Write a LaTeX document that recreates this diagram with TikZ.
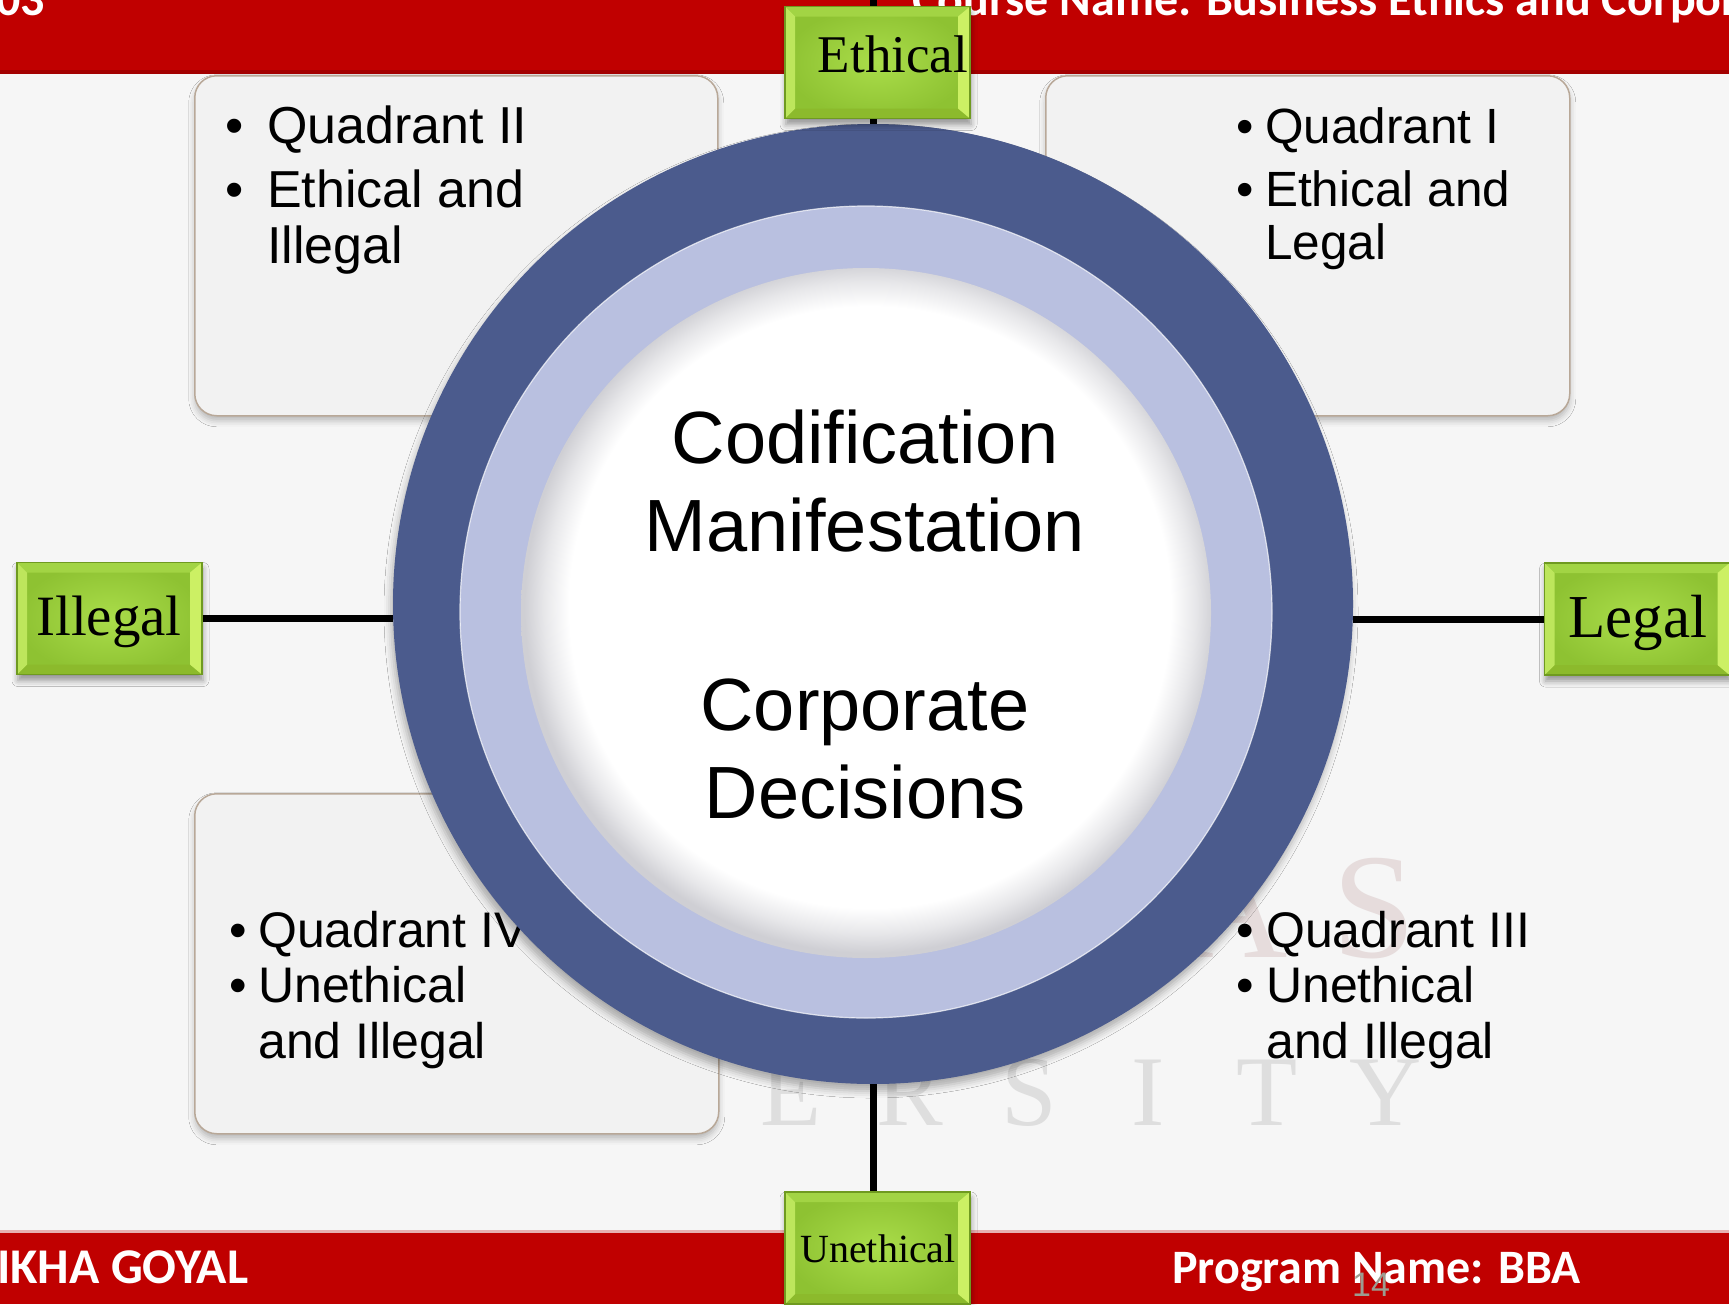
\documentclass[tikz,border=0pt]{standalone}
\usepackage{fontspec}
\setmainfont{Liberation Serif}
\newfontfamily\arialf{Liberation Sans}
\newfontfamily\calibf{Carlito}
\usetikzlibrary{shadows.blur}
\definecolor{bgcol}{HTML}{F6F6F6}
\definecolor{redband}{HTML}{C00000}
\definecolor{reddark}{HTML}{A30000}
\definecolor{redlight}{HTML}{E8B0B0}
\definecolor{qfill}{HTML}{F2F2F2}
\definecolor{qborder}{HTML}{B8A898}
\definecolor{ringdark}{HTML}{4B5B8D}
\definecolor{lav}{HTML}{B9C0E0}
\definecolor{diskrim}{HTML}{CFCFD4}
\definecolor{gmid}{HTML}{AADD4A}
\definecolor{gout}{HTML}{8EC232}
\definecolor{gborder}{HTML}{6F9A20}
\definecolor{gbevL}{HTML}{BDE65C}
\definecolor{gbevR}{HTML}{CCF064}
\definecolor{gbevT}{HTML}{A2D444}
\definecolor{gbevB}{HTML}{8CBA2C}
\definecolor{wmtopc}{HTML}{E6DCDC}
\definecolor{wmbotc}{HTML}{DEDEDE}
\definecolor{pagegray}{HTML}{9C9C90}
\pgfdeclareradialshading{diskshade}{\pgfpoint{0.5bp}{0.75bp}}{color(0bp)=(white); color(21.8bp)=(white); color(23.6bp)=(diskrim!50!white); color(25bp)=(diskrim); color(50bp)=(diskrim)}
\begin{document}
\begin{tikzpicture}[x=1pt,y=-1pt,
  hdr/.style={text=white, inner sep=0, font=\calibf\bfseries\fontsize{48}{56}\selectfont},
  qbox/.style={anchor=north west, rounded corners=22, fill=qfill, draw=qborder, line width=1.5,
    blur shadow={shadow xshift=0pt, shadow yshift=-5pt, shadow blur radius=6pt, shadow opacity=25}},
  qtext/.style={inner sep=0, anchor=base west, font=\arialf},
  ctext/.style={inner sep=0, anchor=base, font=\arialf},
  gtext/.style={inner sep=0, anchor=base, text=black},
  wmtop/.style={inner sep=0, anchor=base, text=wmtopc, font=\fontsize{150}{160}\selectfont},
  wmbot/.style={inner sep=0, anchor=base, text=wmbotc, font=\fontsize{100}{110}\selectfont},
  conn/.style={draw=black, line width=7},
  gbox/.style={minimum width=185, minimum height=112, inner sep=0, draw=gborder, line width=1.2,
    inner color=gmid, outer color=gout,
    blur shadow={shadow xshift=1pt, shadow yshift=-6pt, shadow blur radius=6pt, shadow opacity=40},
    path picture={
      \coordinate (gbnw) at (path picture bounding box.north west);
      \coordinate (gbne) at (path picture bounding box.north east);
      \coordinate (gbsw) at (path picture bounding box.south west);
      \coordinate (gbse) at (path picture bounding box.south east);
      \fill[gbevT] (gbnw) -- (gbne) -- ([shift={(-12,10)}]gbne) -- ([shift={(10,10)}]gbnw) -- cycle;
      \fill[gbevB] (gbsw) -- (gbse) -- ([shift={(-12,-10)}]gbse) -- ([shift={(10,-10)}]gbsw) -- cycle;
      \fill[gbevL] (gbnw) -- ([shift={(10,10)}]gbnw) -- ([shift={(10,-10)}]gbsw) -- (gbsw) -- cycle;
      \fill[gbevR] (gbne) -- ([shift={(-12,10)}]gbne) -- ([shift={(-12,-10)}]gbse) -- (gbse) -- cycle;
    }}
]
\path[use as bounding box] (0,0) rectangle (1729,1304);
\clip (0,0) rectangle (1729,1304);
\fill[bgcol] (0,0) rectangle (1729,1304);

% watermark (only the letters that show)
\node[wmtop] (wmtA) at (1234,957) {A};
\node[wmtop] (wmtS) at (1374,957) {S};
\foreach \l [count=\i from 4] in {E,R,S,I,T,Y} {
  \node[wmbot] (wmb\i) at ({315+119*\i},1125) {\l};
}

% bands
\fill[redband] (0,0) rectangle (1729,73);
\fill[reddark] (0,70) rectangle (1729,74);
\fill[redlight] (0,1230) rectangle (1729,1233);
\fill[redband] (0,1233) rectangle (1729,1304);

\node[hdr, anchor=base east] (code) at (45,15) {03};
\node[hdr, anchor=base west] (course) at (912,15) {Course Name: Business Ethics and Corporate};
\node[hdr, anchor=base west, font=\calibf\bfseries\fontsize{50}{58}\selectfont] (faculty) at (-3,1283) {IKHA GOYAL};
\node[hdr, anchor=base west] (program) at (1172,1283) {Program Name: BBA};
\node[inner sep=0, anchor=base west, text=pagegray, font=\arialf\fontsize{34}{40}\selectfont] (pagenum) at (1352,1296) {14};

% quadrant boxes
\node[qbox, minimum width=523, minimum height=340] (q2) at (194,75) {};
\node[qbox, minimum width=524, minimum height=340] (q1) at (1045,75) {};
\node[qbox, minimum width=524, minimum height=340] (q4) at (194,793) {};

% quadrant texts
\node[qtext] (q2t) at (225,143) {\fontsize{52}{56}\selectfont\begin{tabular}[t]{@{}l@{}l@{}}\makebox[42pt][l]{•}&Quadrant II\\[8pt]\makebox[42pt][l]{•}&Ethical and\\&Illegal\end{tabular}};
\node[qtext] (q1t) at (1236.5,143) {\fontsize{49.5}{53}\selectfont\begin{tabular}[t]{@{}l@{}l@{}}\makebox[28.5pt][l]{•}&Quadrant I\\[10pt]\makebox[28.5pt][l]{•}&Ethical and\\&Legal\end{tabular}};
\node[qtext] (q4t) at (229.5,947) {\fontsize{50}{55.5}\selectfont\begin{tabular}[t]{@{}l@{}l@{}}\makebox[28.5pt][l]{•}&Quadrant IV\\\makebox[28.5pt][l]{•}&Unethical\\&and Illegal\end{tabular}};
\node[qtext] (q3t) at (1236.5,947) {\fontsize{50}{55.5}\selectfont\begin{tabular}[t]{@{}l@{}l@{}}\makebox[29.5pt][l]{•}&Quadrant III\\\makebox[29.5pt][l]{•}&Unethical\\&and Illegal\end{tabular}};

% ring
\node[circle, inner sep=0, minimum size=960, fill=ringdark,
  blur shadow={shadow xshift=-2pt, shadow yshift=-7pt, shadow blur radius=7pt, shadow opacity=30}] (ring) at (873,604) {};
\node[circle, inner sep=0, minimum size=812, fill=lav, draw=white, draw opacity=0.7, line width=1.2] (lavring) at (866,612) {};
\node[circle, inner sep=0, minimum size=690, shade, shading=diskshade] (disk) at (866,613) {};

\node[ctext] (centre) at (865,463) {\fontsize{74}{88}\selectfont\begin{tabular}[t]{@{}c@{}}Codification\\Manifestation\\[91pt]Corporate\\Decisions\end{tabular}};

% top connector runs under the Ethical box
\coordinate (topend) at (873,0);
\draw[conn] (ring.north) -- (topend);

% green label boxes
\node[gbox] (ethical) at (877.5,62.5) {};
\node[gbox] (illegal) at (109.5,618.5) {};
\node[gbox] (legal) at (1637,619) {};
\node[gbox] (unethical) at (877.5,1248) {};

\node[gtext, font=\fontsize{53}{60}\selectfont] (ethicalt) at (893,72) {Ethical};
\node[gtext, font=\fontsize{57}{64}\selectfont] (illegalt) at (109,635) {Illegal};
\node[gtext, font=\fontsize{61}{68}\selectfont] (legalt) at (1638,637) {Legal};
\node[gtext, font=\fontsize{40}{46}\selectfont] (unethicalt) at (878,1262) {Unethical};

% connectors
\draw[conn] (illegal.east) -- (illegal.east -| ring.west);
\draw[conn] (legal.west) -- (legal.west -| ring.east);
\draw[conn] (ring.south) -- (ring.south |- unethical.north);
\end{tikzpicture}
\end{document}
